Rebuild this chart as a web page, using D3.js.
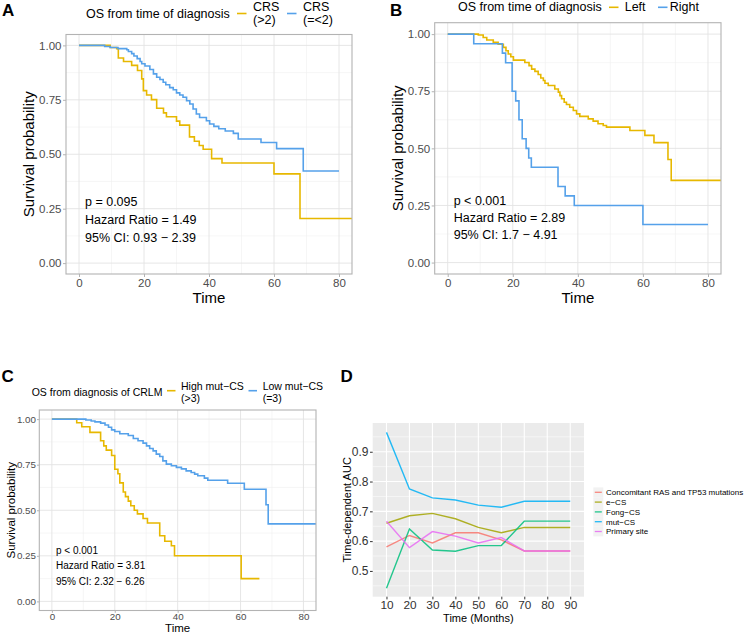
<!DOCTYPE html>
<html>
<head>
<meta charset="utf-8">
<script src="https://cdn.jsdelivr.net/npm/d3@7"></script>
<style>
  html, body { margin: 0; padding: 0; background: #fff; }
  svg { display: block; }
  text { font-family: "Liberation Sans", Arial, sans-serif; }
</style>
</head>
<body>
<svg id="chart" width="744" height="635"></svg>
<script>
// ---------------- DATA ----------------
// Panel A: OS from time of diagnosis, CRS groups  [time, survival]
const crsHigh = [[0,1],[9.6,0.99],[11.6,0.985],[12.1,0.942],[13.7,0.926],[16.2,0.908],[18,0.885],[19.3,0.846],[19.8,0.792],[20.8,0.772],[22.3,0.751],[23.9,0.711],[26,0.69],[26.9,0.672],[30,0.652],[31,0.634],[34,0.58],[35.5,0.56],[37,0.54],[38.2,0.523],[40.8,0.48],[44,0.46],[60,0.41],[68,0.205],[86,0.205]];
const crsLow = [[0,1],[7.9,0.995],[9.6,0.99],[12,0.985],[14.7,0.98],[15.2,0.972],[16.2,0.962],[16.9,0.951],[17.9,0.939],[18.8,0.926],[19.3,0.916],[20.3,0.905],[21.8,0.889],[22.9,0.869],[23.9,0.854],[24.9,0.843],[25.9,0.831],[26.7,0.819],[27.9,0.806],[29,0.796],[30,0.782],[31,0.772],[32,0.762],[33.1,0.746],[34.1,0.731],[35.1,0.708],[36.1,0.685],[37.1,0.669],[39.2,0.654],[40.2,0.639],[41.5,0.628],[43,0.617],[45,0.607],[47.5,0.596],[49,0.57],[56,0.554],[60.8,0.526],[69,0.423],[80,0.423]];
// Panel B: Left vs Right
const sideLeft = [[0,1],[9.4,0.996],[10.9,0.985],[12,0.974],[14,0.964],[15.5,0.956],[17.1,0.942],[17.9,0.927],[18.6,0.913],[19.4,0.901],[20.2,0.886],[23.7,0.876],[25,0.862],[25.8,0.847],[26.8,0.837],[27.8,0.823],[28.6,0.808],[29.4,0.797],[29.9,0.785],[30.9,0.775],[32.9,0.76],[34,0.746],[34.5,0.731],[35,0.717],[35.8,0.702],[36.5,0.692],[37.5,0.68],[38.6,0.666],[39.6,0.651],[40.6,0.64],[43.2,0.629],[44.7,0.619],[46.2,0.608],[47.8,0.6],[48.8,0.593],[56,0.578],[60.6,0.557],[63.4,0.525],[67.7,0.451],[68.7,0.36],[86,0.36]];
const sideRight = [[0,1],[8,0.958],[16.8,0.917],[17.8,0.875],[19.8,0.75],[20.9,0.708],[21.9,0.625],[22.9,0.542],[24.1,0.5],[24.9,0.458],[25.7,0.417],[33.9,0.333],[36.1,0.292],[38.9,0.25],[60,0.167],[80,0.167]];
// Panel C: High vs Low mut-CS
const mutHigh = [[0,1],[7.9,0.98],[9.5,0.958],[12.1,0.927],[15.5,0.881],[16.5,0.853],[17.3,0.83],[19,0.8],[20,0.725],[21,0.7],[21.6,0.65],[22.7,0.6],[23.4,0.575],[24.3,0.55],[25.1,0.525],[26.2,0.5],[27.2,0.48],[29,0.455],[30.4,0.43],[34.3,0.36],[35.9,0.33],[38,0.305],[39,0.25],[60.2,0.125],[66,0.125]];
const mutLow = [[0,1],[10.8,0.995],[12.5,0.99],[13.7,0.985],[15.5,0.978],[16.9,0.968],[18,0.955],[19,0.941],[20,0.932],[21.6,0.92],[24.3,0.91],[25.9,0.894],[27.4,0.881],[29,0.868],[30.1,0.853],[31.1,0.839],[32.2,0.826],[33.2,0.808],[34.3,0.795],[35.3,0.771],[36.4,0.753],[38,0.744],[39.6,0.735],[41.2,0.727],[42.7,0.716],[44.3,0.707],[45.4,0.698],[46.4,0.689],[48.5,0.676],[49.6,0.665],[55.9,0.648],[61.2,0.615],[68.1,0.53],[68.8,0.425],[86,0.425]];
const kmTicksX = [0, 20, 40, 60, 80];
const kmTicksY = [0, 0.25, 0.5, 0.75, 1];

// Panel D: time-dependent AUC
const months = [10, 20, 30, 40, 50, 60, 70, 80, 90];
const aucConcomitant = [0.581, 0.619, 0.594, 0.628, 0.628, 0.604, 0.567, 0.567, 0.567];
const aucECS = [0.660, 0.685, 0.693, 0.675, 0.646, 0.628, 0.646, 0.646, 0.646];
const aucFongCS = [0.442, 0.641, 0.570, 0.566, 0.585, 0.585, 0.667, 0.667, 0.667];
const aucMutCS = [0.965, 0.775, 0.745, 0.738, 0.721, 0.714, 0.734, 0.734, 0.734];
const aucPrimarySite = [0.667, 0.578, 0.632, 0.617, 0.594, 0.612, 0.567, 0.567, 0.567];
const aucSeriesNames = ["Concomitant RAS and TP53 mutations", "e\u2212CS", "Fong\u2212CS", "mut\u2212CS", "Primary site"];
const aucTicksY = [0.5, 0.6, 0.7, 0.8, 0.9];

// ---------------- DRAW ----------------
const svg = d3.select("#chart");
svg.append("rect").attr("width", 744).attr("height", 635).attr("fill", "#fff");

const YELLOW = "#E7B800", BLUE = "#55A1EA";

function drawKM(cfg) {
  const g = svg.append("g");
  const x = d3.scaleLinear().domain([-4, 84]).range([cfg.left, cfg.right]);
  const y = d3.scaleLinear().domain([-0.05, 1.05]).range([cfg.bottom, cfg.top]);
  const clipId = "clip" + cfg.id;
  svg.append("clipPath").attr("id", clipId).append("rect")
    .attr("x", cfg.left).attr("y", cfg.top)
    .attr("width", cfg.right - cfg.left).attr("height", cfg.bottom - cfg.top);

  // minor grid
  [10, 30, 50, 70].forEach(v => g.append("line").attr("x1", x(v)).attr("x2", x(v))
    .attr("y1", cfg.top).attr("y2", cfg.bottom).attr("stroke", "#F0F0F0").attr("stroke-width", 0.6));
  [0.125, 0.375, 0.625, 0.875].forEach(v => g.append("line").attr("y1", y(v)).attr("y2", y(v))
    .attr("x1", cfg.left).attr("x2", cfg.right).attr("stroke", "#F0F0F0").attr("stroke-width", 0.6));
  // major grid
  kmTicksX.forEach(v => g.append("line").attr("x1", x(v)).attr("x2", x(v))
    .attr("y1", cfg.top).attr("y2", cfg.bottom).attr("stroke", "#E3E3E3").attr("stroke-width", 0.9));
  kmTicksY.forEach(v => g.append("line").attr("y1", y(v)).attr("y2", y(v))
    .attr("x1", cfg.left).attr("x2", cfg.right).attr("stroke", "#E3E3E3").attr("stroke-width", 0.9));

  const line = d3.line().x(d => x(d[0])).y(d => y(d[1])).curve(d3.curveStepAfter);
  const cg = g.append("g").attr("clip-path", `url(#${clipId})`);
  cfg.series.forEach(s => cg.append("path").datum(s.data).attr("d", line)
    .attr("fill", "none").attr("stroke", s.color).attr("stroke-width", 1.6));

  // border
  g.append("rect").attr("x", cfg.left).attr("y", cfg.top)
    .attr("width", cfg.right - cfg.left).attr("height", cfg.bottom - cfg.top)
    .attr("fill", "none").attr("stroke", "#B3B3B3").attr("stroke-width", 1.1);

  // axes
  const ax = g.append("g").attr("transform", `translate(0,${cfg.bottom})`)
    .call(d3.axisBottom(x).tickValues(kmTicksX).tickSize(cfg.tick).tickPadding(cfg.padX).tickFormat(d3.format("d")));
  const ay = g.append("g").attr("transform", `translate(${cfg.left},0)`)
    .call(d3.axisLeft(y).tickValues(kmTicksY).tickSize(cfg.tick).tickPadding(cfg.padY).tickFormat(d3.format(".2f")));
  [ax, ay].forEach(a => {
    a.select(".domain").remove();
    a.selectAll(".tick line").attr("stroke", "#B3B3B3");
    a.selectAll(".tick text").attr("fill", "#4D4D4D").style("font-size", cfg.tickFont + "px")
      .style("font-family", '"Liberation Sans", Arial, sans-serif');
  });

  // axis titles
  g.append("text").attr("x", (cfg.left + cfg.right) / 2).attr("y", cfg.xTitleY)
    .attr("text-anchor", "middle").style("font-size", cfg.titleFont + "px").text("Time");
  g.append("text").attr("transform", `translate(${cfg.yTitleX},${(cfg.top + cfg.bottom) / 2}) rotate(-90)`)
    .attr("text-anchor", "middle").style("font-size", cfg.titleFont + "px").text("Survival probability");

  // annotations
  cfg.notes.forEach((t, i) => g.append("text").attr("x", cfg.noteX).attr("y", cfg.noteY + i * cfg.noteGap)
    .style("font-size", cfg.noteFont + "px").text(t));

  // panel letter
  g.append("text").attr("x", cfg.letterX).attr("y", cfg.letterY)
    .style("font-size", "17px").style("font-weight", "bold").text(cfg.letter);

  // legend
  const L = cfg.legend;
  g.append("text").attr("x", L.titleX).attr("y", L.titleY).style("font-size", L.font + "px").text(L.title);
  L.items.forEach(it => {
    g.append("line").attr("x1", it.keyX).attr("x2", it.keyX + L.keyW)
      .attr("y1", L.keyY).attr("y2", L.keyY).attr("stroke", it.color).attr("stroke-width", 1.6);
    it.lines.forEach((ln, j) => g.append("text").attr("x", it.textX).attr("y", L.textY + j * L.lineGap)
      .style("font-size", L.font + "px").text(ln));
  });
}

drawKM({
  id: "A", letter: "A", letterX: 2, letterY: 15.5,
  left: 66, right: 352, top: 34.5, bottom: 274,
  tick: 3, padX: 2, padY: 1.5, tickFont: 11.5, titleFont: 15,
  xTitleY: 303, yTitleX: 34,
  series: [{data: crsHigh, color: YELLOW}, {data: crsLow, color: BLUE}],
  notes: ["p = 0.095", "Hazard Ratio = 1.49", "95% CI: 0.93 \u2212 2.39"],
  noteX: 85, noteY: 206, noteGap: 17.8, noteFont: 12.5,
  legend: {title: "OS from time of diagnosis", titleX: 86, titleY: 18, font: 12.5,
    keyY: 13.5, keyW: 9.5, textY: 10.5, lineGap: 13.5,
    items: [{color: YELLOW, keyX: 237, textX: 253, lines: ["CRS", "(>2)"]},
            {color: BLUE, keyX: 287, textX: 303, lines: ["CRS", "(=<2)"]}]}
});

drawKM({
  id: "B", letter: "B", letterX: 390, letterY: 15.5,
  left: 434.7, right: 721, top: 22.7, bottom: 274,
  tick: 3, padX: 2, padY: 1.5, tickFont: 11.5, titleFont: 15,
  xTitleY: 303, yTitleX: 403,
  series: [{data: sideLeft, color: YELLOW}, {data: sideRight, color: BLUE}],
  notes: ["p < 0.001", "Hazard Ratio = 2.89", "95% CI: 1.7 \u2212 4.91"],
  noteX: 453.7, noteY: 204.5, noteGap: 17.3, noteFont: 12.5,
  legend: {title: "OS from time of diagnosis", titleX: 458, titleY: 11, font: 12.5,
    keyY: 7.3, keyW: 9.5, textY: 11, lineGap: 13.5,
    items: [{color: YELLOW, keyX: 609, textX: 624.7, lines: ["Left"]},
            {color: BLUE, keyX: 658, textX: 669.7, lines: ["Right"]}]}
});

drawKM({
  id: "C", letter: "C", letterX: 1.5, letterY: 382,
  left: 39.3, right: 316, top: 410, bottom: 610.5,
  tick: 2.3, padX: 0, padY: 1, tickFont: 9.8, titleFont: 11.5,
  xTitleY: 632.3, yTitleX: 14.5,
  series: [{data: mutHigh, color: YELLOW}, {data: mutLow, color: BLUE}],
  notes: ["p < 0.001", "Hazard Ratio = 3.81", "95% CI: 2.32 \u2212 6.26"],
  noteX: 56, noteY: 553.5, noteGap: 15.5, noteFont: 10,
  legend: {title: "OS from diagnosis of CRLM", titleX: 31.7, titleY: 395.5, font: 10.5,
    keyY: 390.7, keyW: 8.5, textY: 390.2, lineGap: 11.5,
    items: [{color: YELLOW, keyX: 167, textX: 181, lines: ["High mut\u2212CS", "(>3)"]},
            {color: BLUE, keyX: 248.5, textX: 262.7, lines: ["Low mut\u2212CS", "(=3)"]}]}
});

// ---------------- Panel D ----------------
(function drawAUC() {
  const left = 372.7, right = 584, top = 423, bottom = 596.7;
  const g = svg.append("g");
  const x = d3.scaleLinear().domain([4, 96]).range([left, right]);
  const y = d3.scaleLinear().domain([0.4135, 0.9965]).range([bottom, top]);
  g.append("rect").attr("x", left).attr("y", top).attr("width", right - left).attr("height", bottom - top).attr("fill", "#EBEBEB");
  [0.45, 0.55, 0.65, 0.75, 0.85, 0.95].forEach(v => g.append("line").attr("x1", left).attr("x2", right)
    .attr("y1", y(v)).attr("y2", y(v)).attr("stroke", "#fff").attr("stroke-width", 0.55));
  aucTicksY.forEach(v => g.append("line").attr("x1", left).attr("x2", right)
    .attr("y1", y(v)).attr("y2", y(v)).attr("stroke", "#fff").attr("stroke-width", 1.1));
  months.forEach(v => g.append("line").attr("x1", x(v)).attr("x2", x(v))
    .attr("y1", top).attr("y2", bottom).attr("stroke", "#fff").attr("stroke-width", 1.1));

  const colors = ["#F8766D", "#A3A500", "#00BF7D", "#00B0F6", "#E76BF3"];
  const series = [aucConcomitant, aucECS, aucFongCS, aucMutCS, aucPrimarySite];
  const line = d3.line().x((d, i) => x(months[i])).y(d => y(d));
  series.forEach((s, k) => g.append("path").datum(s).attr("d", line)
    .attr("fill", "none").attr("stroke", colors[k]).attr("stroke-width", 1.4).attr("opacity", 0.85));

  const ax = g.append("g").attr("transform", `translate(0,${bottom})`)
    .call(d3.axisBottom(x).tickValues(months).tickSize(2.7).tickPadding(1.2).tickFormat(d3.format("d")));
  const ay = g.append("g").attr("transform", `translate(${left},0)`)
    .call(d3.axisLeft(y).tickValues(aucTicksY).tickSize(2.7).tickPadding(1.5).tickFormat(d3.format(".1f")));
  [[ax, 11.8], [ay, 12]].forEach(([a, f]) => {
    a.select(".domain").remove();
    a.selectAll(".tick line").attr("stroke", "#333");
    a.selectAll(".tick text").attr("fill", "#333").style("font-size", f + "px")
      .style("font-family", '"Liberation Sans", Arial, sans-serif');
  });
  g.append("text").attr("x", (left + right) / 2).attr("y", 621.8).attr("text-anchor", "middle")
    .style("font-size", "11px").text("Time (Months)");
  g.append("text").attr("transform", `translate(351,${(top + bottom) / 2}) rotate(-90)`)
    .attr("text-anchor", "middle").style("font-size", "11px").text("Time-dependent AUC");

  // legend
  const rowY = [492.3, 502.1, 511.9, 521.7, 531.5];
  aucSeriesNames.forEach((name, k) => {
    g.append("rect").attr("x", 593.3).attr("y", rowY[k] - 4.9).attr("width", 10).attr("height", 9.8).attr("fill", "#F2F2F2");
    g.append("line").attr("x1", 594.8).attr("x2", 601.8).attr("y1", rowY[k]).attr("y2", rowY[k])
      .attr("stroke", colors[k]).attr("stroke-width", 1.3).attr("opacity", 0.85);
    g.append("text").attr("x", 606).attr("y", rowY[k] + 2.9).style("font-size", "8px").text(name);
  });

  svg.append("text").attr("x", 340.5).attr("y", 382).style("font-size", "17px").style("font-weight", "bold").text("D");
})();
</script>
</body>
</html>
